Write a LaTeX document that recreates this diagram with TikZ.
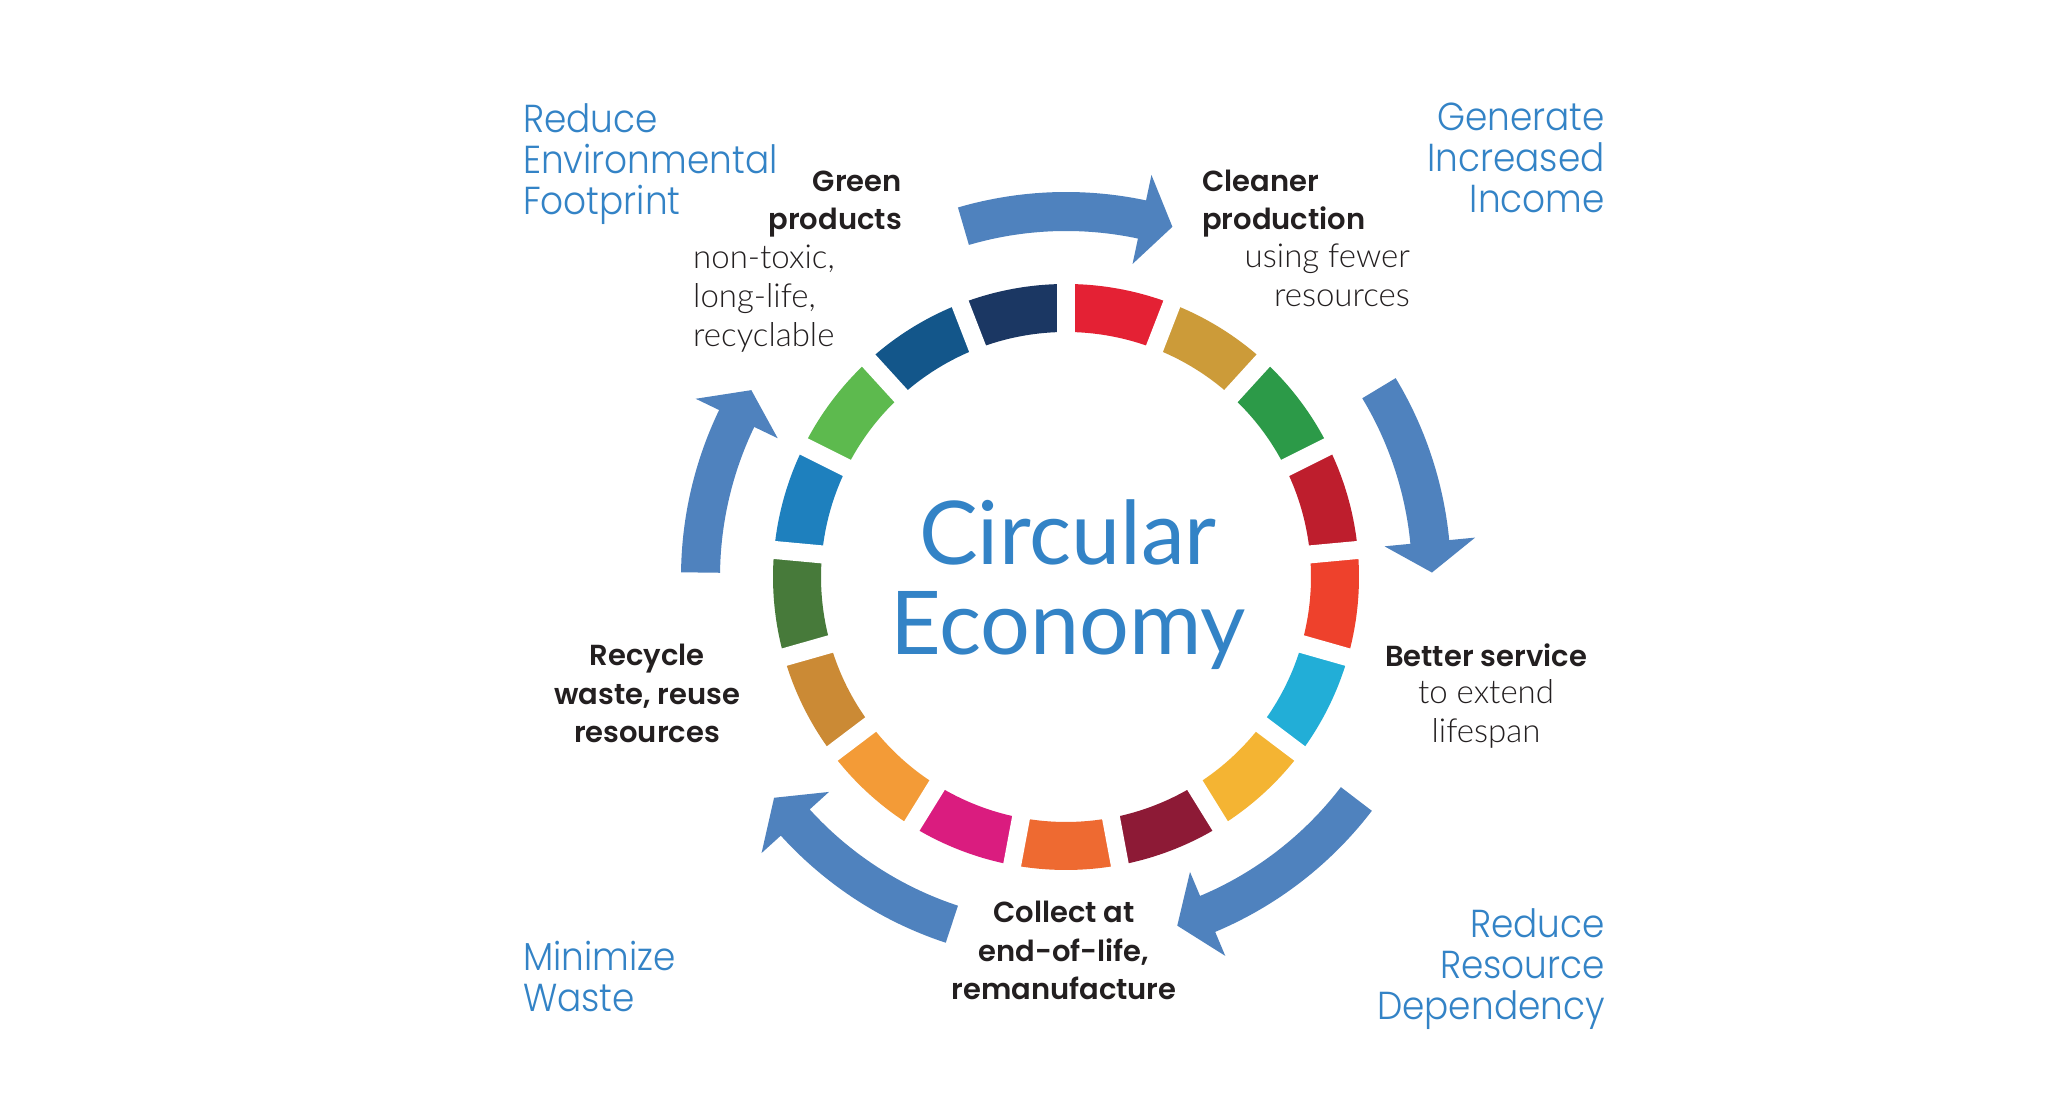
\documentclass[tikz,border=0pt]{standalone}
\usepackage{fontspec}
\newfontfamily\bluefont{Poppins}[UprightFont=* Light, FakeStretch=0.92]
\newfontfamily\boldfont{Poppins}[UprightFont=* SemiBold]
\newfontfamily\lightfont{Lato}[UprightFont=* Light]
\newfontfamily\titlefont{Lato}
\definecolor{arrowblue}{HTML}{4F82BE}
\definecolor{txtblue}{HTML}{3383C6}
\definecolor{txtblack}{HTML}{231F20}
\tikzset{
  bluelabel/.style={font=\bluefont\fontsize{39}{41}\selectfont, text=txtblue, inner sep=0pt},
  boldlabel/.style={font=\boldfont\fontsize{29}{38.5}\selectfont, text=txtblack, inner sep=0pt},
  lightlabel/.style={font=\lightfont\fontsize{33}{39}\selectfont, text=txtblack, inner sep=0pt},
  titlelabel/.style={font=\titlefont\fontsize{88}{90}\selectfont, text=txtblue, inner sep=0pt},
  gapline/.style={draw=white, line width=18pt},
  cyclearrow/.style={fill=arrowblue},
}
\begin{document}
\begin{tikzpicture}[x=1pt,y=1pt]
\useasboundingbox[fill=white] (0,0) rectangle (2048,1095);
\begin{scope}[shift={(1066,518)}]
  % ring segments
  \foreach \c [count=\i from 0] in {E42134,CC9B39,2C9A48,BE1E2D,EE412C,22AED7,F4B433,8D1A36,EE6A31,DA1C7F,F39B37,CB8A35,477A3A,1E80BE,5DBA4E,13568A,1B3763} {
    \pgfmathsetmacro\aa{90-\i*360/17}
    \pgfmathsetmacro\ab{90-(\i+1)*360/17}
    \definecolor{seg}{HTML}{\c}
    \fill[seg] (\aa:245) arc[start angle=\aa, end angle=\ab, radius=245]
      -- (\ab:293) arc[start angle=\ab, end angle=\aa, radius=293] -- cycle;
  }
  \foreach \i in {0,...,16} {
    \pgfmathsetmacro\ga{90-\i*360/17}
    \draw[gapline] (\ga:232) -- (\ga:306);
  }
  % cycle arrows
  \foreach \sa/\hb/\tp in {106.3/78/73.1, 31.1/5.5/0.7, -37.4/-67.2/-72.3, -108.2/-137.8/-142.9, 179.3/154.3/149.3} {
    \fill[cyclearrow] (\sa:346) arc[start angle=\sa, end angle=\hb, radius=346]
      -- (\hb:320) -- (\tp:366) -- (\hb:411) -- (\hb:385)
      arc[start angle=\hb, end angle=\sa, radius=385] -- cycle;
  }
\end{scope}
% outer blue labels (anchor = baseline of last line)
\node[bluelabel, align=left, anchor=base west] (envfoot) at (523,880) {Reduce\\Environmental\\Footprint};
\node[bluelabel, align=right, anchor=base east] (income) at (1605,882) {Generate\\Increased\\Income};
\node[bluelabel, align=right, anchor=base east] (resdep) at (1605,75) {Reduce\\Resource\\Dependency};
\node[bluelabel, align=left, anchor=base west] (waste) at (523,83) {Minimize\\Waste};
% stage labels
\node[boldlabel, align=right, anchor=base east] (green) at (902,865) {Green\\products};
\node[lightlabel, align=left, anchor=base west] (greend) at (693,748) {non-toxic,\\long-life,\\recyclable};
\node[boldlabel, align=left, anchor=base west] (cleaner) at (1202,865) {Cleaner\\production};
\node[lightlabel, align=right, anchor=base east] (cleanerd) at (1410,788) {using fewer\\resources};
\node[boldlabel, anchor=base] (better) at (1486,428) {Better service};
\node[lightlabel, align=center, anchor=base] (betterd) at (1486,352) {to extend\\lifespan};
\node[boldlabel, align=center, anchor=base] (collect) at (1064,95) {Collect at\\end-of-life,\\remanufacture};
\node[boldlabel, align=center, anchor=base] (recycle) at (647,352) {Recycle\\waste, reuse\\resources};
\node[titlelabel, align=center, anchor=base] (title) at (1068,440) {Circular\\Economy};
\end{tikzpicture}
\end{document}
